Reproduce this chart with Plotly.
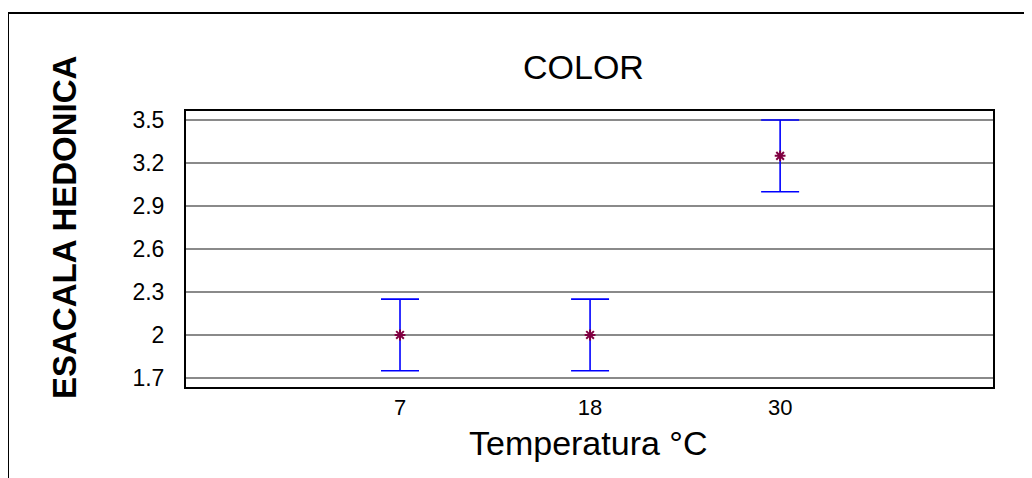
import plotly.graph_objects as go

temperatures = ["7", "18", "30"]
means = [2.0, 2.0, 3.25]
errors = [0.25, 0.25, 0.25]
y_ticks = [1.7, 2.0, 2.3, 2.6, 2.9, 3.2, 3.5]
y_tick_labels = ["1.7", "2", "2.3", "2.6", "2.9", "3.2", "3.5"]

W, H = 1032, 478
OFF = 8  # page body margin
L, R, T, B = 186 - OFF, 993 - OFF, 111 - OFF, 387 - OFF
pw, ph = R - L, B - T

def px(x):
    return (x - OFF - L) / pw

def py(y):
    return (B - (y - OFF)) / ph

font = "Liberation Sans, Arial, sans-serif"

fig = go.Figure()
fig.add_trace(go.Scatter(
    x=temperatures, y=means, mode="markers",
    marker=dict(symbol="asterisk", size=9, color="#800040",
                line=dict(color="#800040", width=2)),
    error_y=dict(type="data", array=errors, visible=True,
                 color="#0000FF", thickness=1.6, width=19),
    showlegend=False,
))

fig.update_layout(
    width=W, height=H,
    margin=dict(l=L, r=W - R, t=T, b=H - B, pad=0),
    paper_bgcolor="white", plot_bgcolor="white",
    font=dict(family=font, color="black"),
    xaxis=dict(type="category", range=[-1.126, 3.12],
               showgrid=False, zeroline=False,
               showline=True, mirror=True, linecolor="black", linewidth=2,
               ticks="", ticklabelstandoff=0,
               tickfont=dict(size=22, family=font, color="black")),
    yaxis=dict(range=[1.637, 3.563], tickvals=y_ticks, ticktext=y_tick_labels,
               showgrid=True, gridcolor="#8a8a8a", gridwidth=1.5,
               zeroline=False,
               showline=True, mirror=True, linecolor="black", linewidth=2,
               ticks="", ticklabelstandoff=15,
               tickfont=dict(size=23, family=font, color="black")),
    annotations=[
        dict(text="COLOR", xref="paper", yref="paper", x=px(583), y=py(67),
             xanchor="center", yanchor="middle", showarrow=False,
             font=dict(size=34, family=font, color="black")),
        dict(text="Temperatura °C", xref="paper", yref="paper", x=px(588), y=py(443),
             xanchor="center", yanchor="middle", showarrow=False,
             font=dict(size=34, family=font, color="black")),
        dict(text="<b>ESACALA HEDONICA</b>", xref="paper", yref="paper",
             x=px(64), y=py(228), textangle=-90,
             xanchor="center", yanchor="middle", showarrow=False,
             font=dict(size=33, family="Liberation Sans Narrow, Arial Narrow, Liberation Sans, sans-serif",
                       color="black")),
    ],
    shapes=[
        dict(type="line", xref="paper", yref="paper",
             x0=px(8), x1=px(1045), y0=py(13), y1=py(13),
             line=dict(color="black", width=2)),
        dict(type="line", xref="paper", yref="paper",
             x0=px(8), x1=px(8), y0=py(13), y1=py(495),
             line=dict(color="black", width=2)),
    ],
)

fig.write_html("out.html")
